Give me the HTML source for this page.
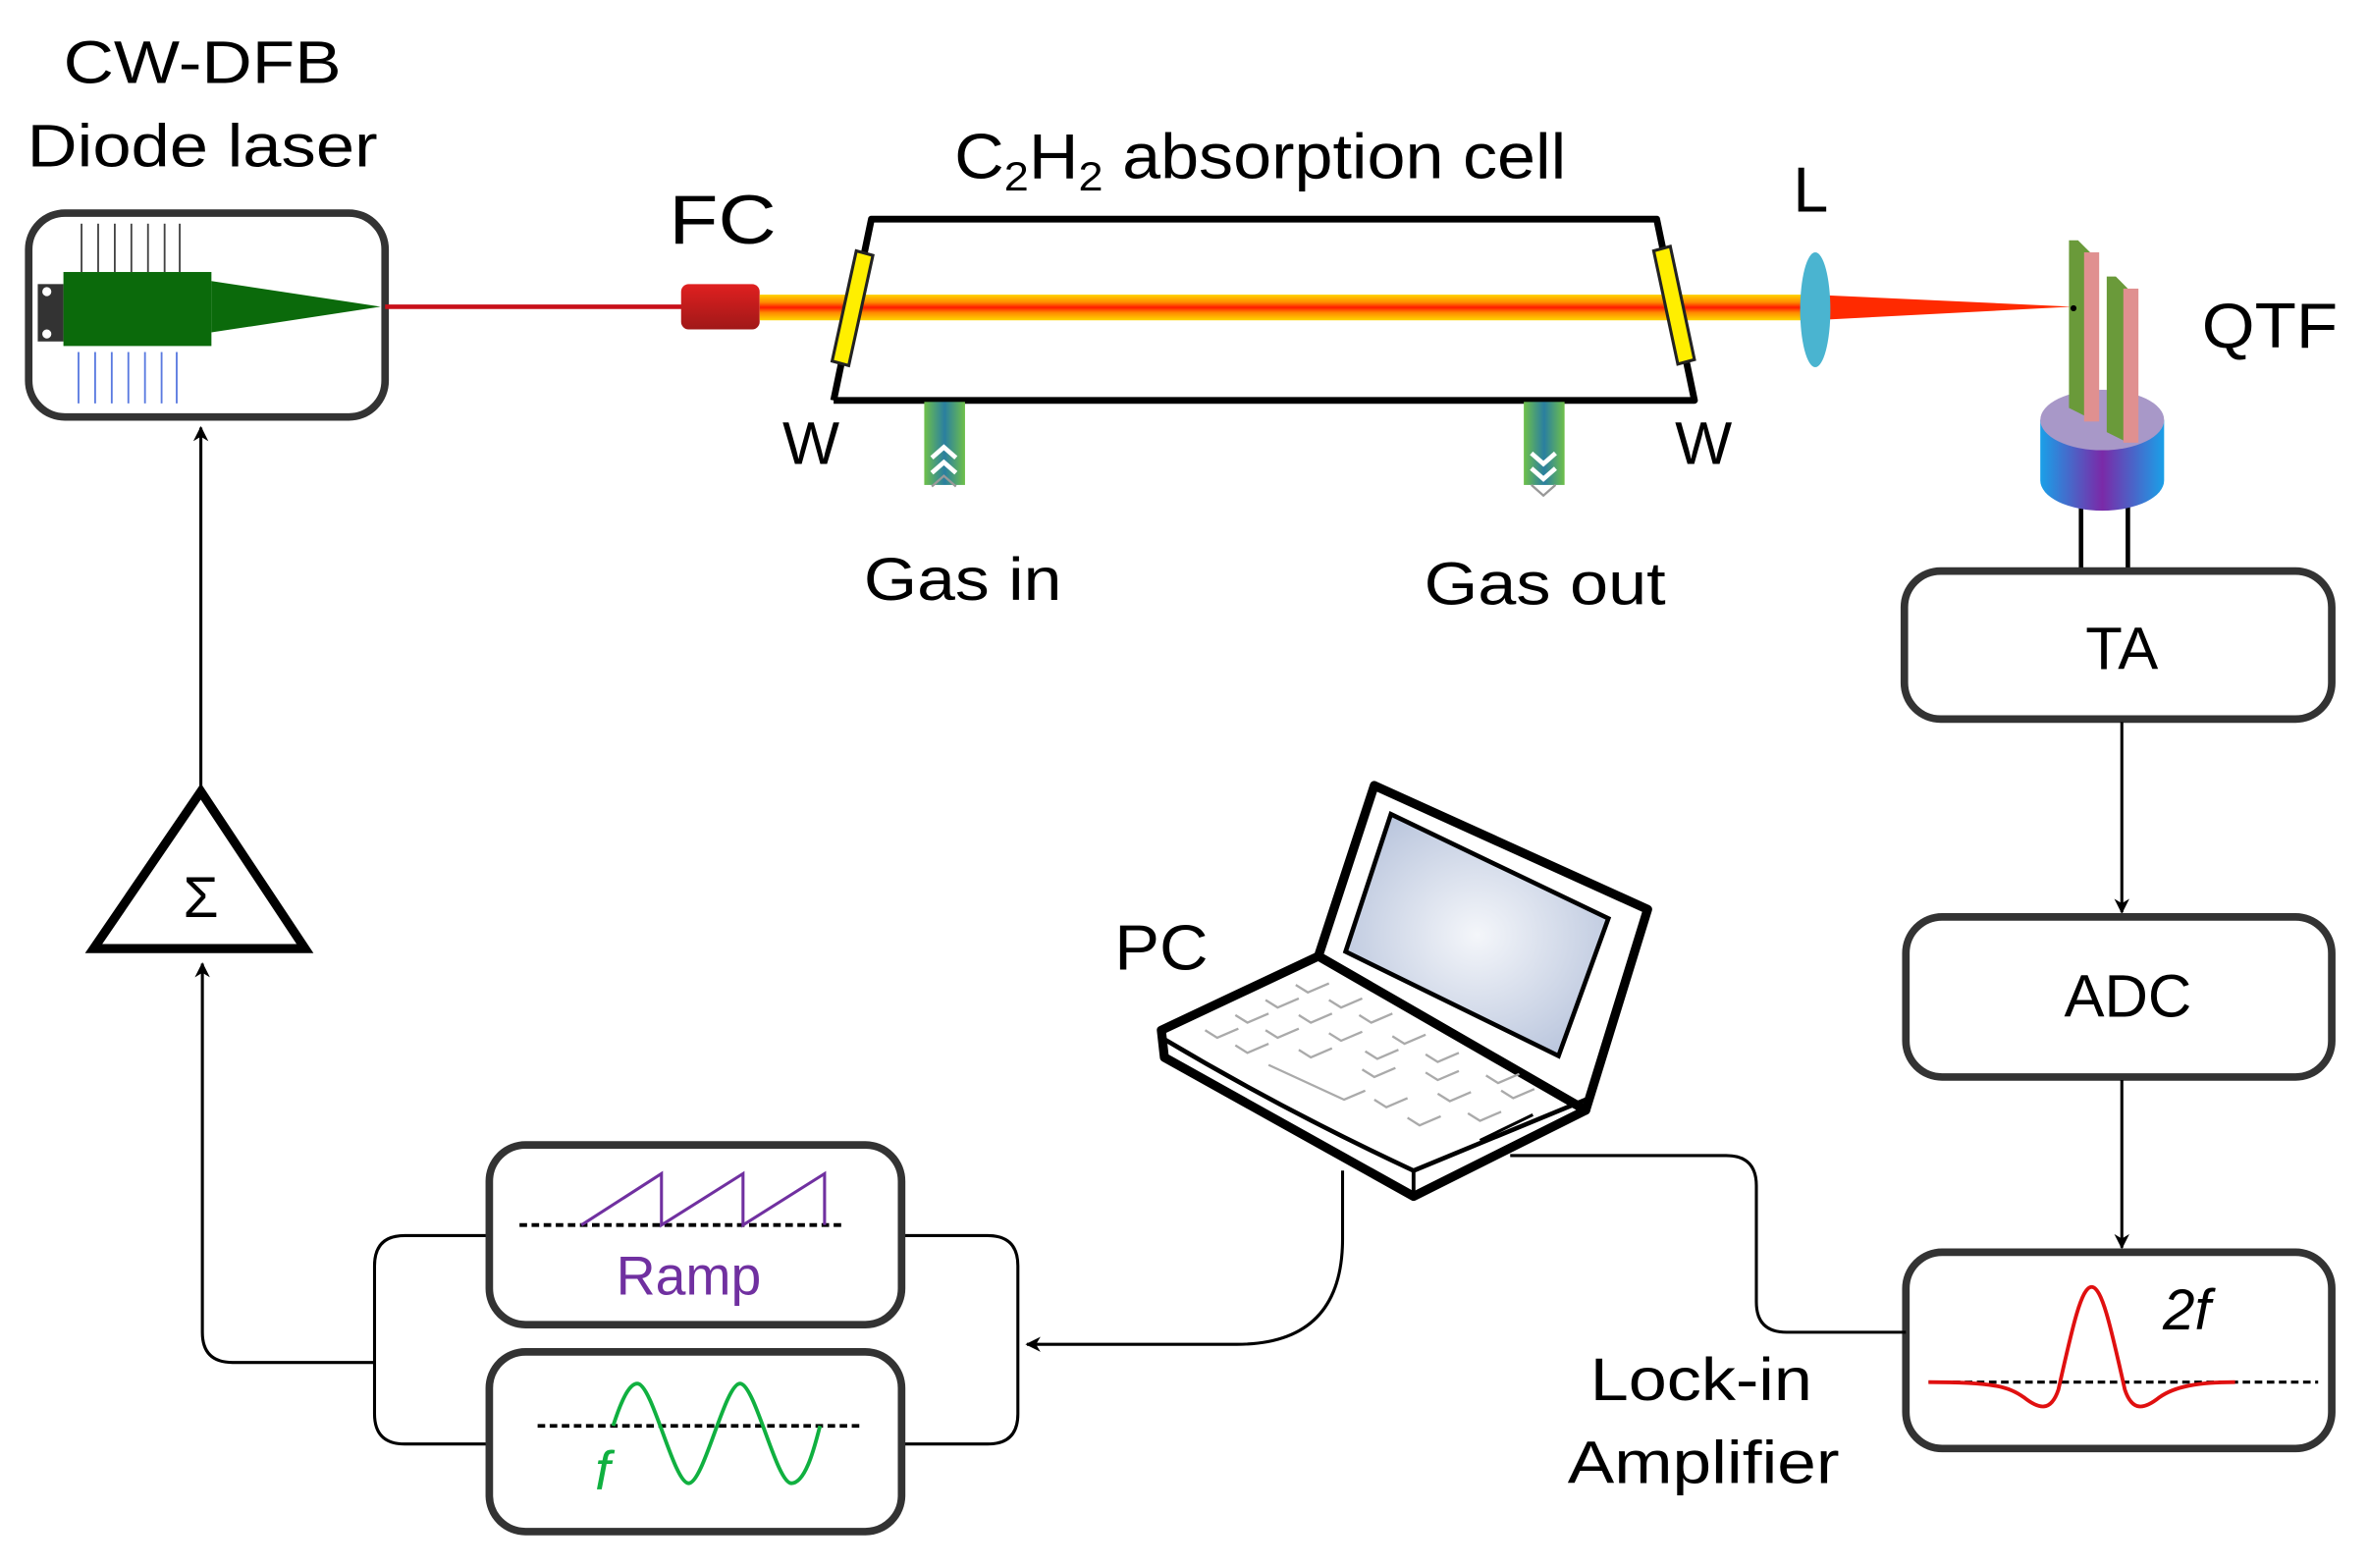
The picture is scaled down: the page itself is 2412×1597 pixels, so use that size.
<!DOCTYPE html>
<html><head><meta charset="utf-8"><style>
html,body{margin:0;padding:0;background:#fff;}
svg{display:block;}
text{font-family:"Liberation Sans",Arial,sans-serif;}
</style></head><body>
<svg width="2412" height="1597" viewBox="0 0 1568 1038" xmlns="http://www.w3.org/2000/svg">
<defs>
<marker id="ah" markerWidth="10" markerHeight="10" refX="9" refY="5" orient="auto" markerUnits="userSpaceOnUse">
<path d="M0,0 L10,5 L0,10 L3,5 Z" fill="#000"/></marker>
<linearGradient id="beam" x1="0" y1="0" x2="0" y2="1">
<stop offset="0" stop-color="#ffd400"/><stop offset="0.3" stop-color="#ff8a00"/><stop offset="0.5" stop-color="#ff1a00"/><stop offset="0.7" stop-color="#ff8a00"/><stop offset="1" stop-color="#ffd400"/></linearGradient>
<linearGradient id="tube" x1="0" y1="0" x2="1" y2="0">
<stop offset="0" stop-color="#6fc04a"/><stop offset="0.5" stop-color="#2a7fa0"/><stop offset="1" stop-color="#6fc04a"/></linearGradient>
<linearGradient id="cyl" x1="0" y1="0" x2="1" y2="0">
<stop offset="0" stop-color="#1aa0e8"/><stop offset="0.5" stop-color="#7a2aa8"/><stop offset="1" stop-color="#1aa0e8"/></linearGradient>
<radialGradient id="scr" cx="0.5" cy="0.5" r="0.6"><stop offset="0" stop-color="#f4f6fa"/><stop offset="1" stop-color="#b8c4dc"/></radialGradient>
<linearGradient id="fc" x1="0" y1="0" x2="0" y2="1"><stop offset="0" stop-color="#e02020"/><stop offset="1" stop-color="#a01818"/></linearGradient>
</defs>

<!-- Laser -->
<text x="42" y="55" font-size="40" textLength="184" lengthAdjust="spacingAndGlyphs">CW-DFB</text>
<text x="18" y="110" font-size="40" textLength="232" lengthAdjust="spacingAndGlyphs">Diode laser</text>
<rect x="19" y="141" width="236" height="135" rx="24" fill="#fff" stroke="#333" stroke-width="5"/>
<g stroke="#444" stroke-width="1.2">
<line x1="54" y1="148" x2="54" y2="180"/><line x1="65" y1="148" x2="65" y2="180"/><line x1="76" y1="148" x2="76" y2="180"/><line x1="87" y1="148" x2="87" y2="180"/><line x1="98" y1="148" x2="98" y2="180"/><line x1="109" y1="148" x2="109" y2="180"/><line x1="119" y1="148" x2="119" y2="180"/></g>
<g stroke="#5a7ae0" stroke-width="1.2">
<line x1="52" y1="233" x2="52" y2="267"/><line x1="63" y1="233" x2="63" y2="267"/><line x1="74" y1="233" x2="74" y2="267"/><line x1="85" y1="233" x2="85" y2="267"/><line x1="96" y1="233" x2="96" y2="267"/><line x1="107" y1="233" x2="107" y2="267"/><line x1="117" y1="233" x2="117" y2="267"/></g>
<rect x="25" y="188" width="17" height="38" fill="#333"/>
<circle cx="31" cy="193" r="3" fill="#fff"/><circle cx="31" cy="221" r="3" fill="#fff"/>
<rect x="42" y="180" width="98" height="49" fill="#0b6a0b"/>
<polygon points="140,186 252,203 140,220" fill="#0b6a0b"/>
<line x1="255" y1="203" x2="452" y2="203" stroke="#c8101a" stroke-width="3"/>
<!-- FC -->
<text x="443" y="161" font-size="46" textLength="71" lengthAdjust="spacingAndGlyphs">FC</text>
<rect x="451" y="188" width="52" height="30" rx="5" fill="url(#fc)"/>
<!-- beam -->
<rect x="503" y="195" width="697" height="17" fill="url(#beam)"/>
<polygon points="1200,195 1372,203 1200,212" fill="#ff2a00"/>
<!-- cell -->
<text x="632" y="118" font-size="42" textLength="405" lengthAdjust="spacingAndGlyphs">C<tspan font-size="27" dy="8">2</tspan><tspan dy="-8">H</tspan><tspan font-size="27" dy="8">2</tspan><tspan dy="-8"> absorption cell</tspan></text>
<polyline points="552,265 577,145 1097,145 1122,265 552,265" fill="none" stroke="#000" stroke-width="4.5" stroke-linejoin="round"/>
<polygon points="567,166 578,169 562,242 551,239" fill="#ffef00" stroke="#222" stroke-width="2"/>
<polygon points="1095,166 1106,163 1122,238 1111,241" fill="#ffef00" stroke="#222" stroke-width="2"/>
<text x="537" y="307" font-size="40" text-anchor="middle">W</text>
<text x="1128" y="307" font-size="40" text-anchor="middle">W</text>
<rect x="612" y="266" width="27" height="55" fill="url(#tube)"/>
<g fill="none" stroke="#fff" stroke-width="3"><polyline points="617,303 625,296 633,303"/><polyline points="617,313 625,306 633,313"/></g>
<g fill="none" stroke="#999" stroke-width="1.5"><polyline points="617,322 625,315 633,322"/></g>
<rect x="1009" y="266" width="27" height="55" fill="url(#tube)"/>
<g fill="none" stroke="#fff" stroke-width="3"><polyline points="1014,300 1022,307 1030,300"/><polyline points="1014,310 1022,317 1030,310"/></g>
<g fill="none" stroke="#999" stroke-width="1.5"><polyline points="1014,321 1022,328 1030,321"/></g>
<text x="572" y="397" font-size="40" textLength="131" lengthAdjust="spacingAndGlyphs">Gas in</text>
<text x="943" y="400" font-size="40" textLength="160" lengthAdjust="spacingAndGlyphs">Gas out</text>
<!-- lens -->
<text x="1199" y="140" font-size="42" text-anchor="middle">L</text>
<ellipse cx="1202" cy="205" rx="10" ry="38" fill="#4ab4d0"/>
<!-- QTF -->
<text x="1458" y="230" font-size="42" textLength="90" lengthAdjust="spacingAndGlyphs">QTF</text>
<line x1="1378" y1="335" x2="1378" y2="377" stroke="#000" stroke-width="3"/>
<line x1="1409" y1="335" x2="1409" y2="377" stroke="#000" stroke-width="3"/>
<path d="M1351,278 L1351,318 A41,20 0 0 0 1433,318 L1433,278 Z" fill="url(#cyl)"/>
<ellipse cx="1392" cy="278" rx="41" ry="20" fill="#a898c8"/>
<polygon points="1370,159 1376,159 1384,167 1384,277 1370,270" fill="#6a9a3a"/>
<rect x="1380" y="167" width="10" height="112" fill="#e09090"/>
<polygon points="1395,183 1401,183 1409,191 1409,293 1395,286" fill="#6a9a3a"/>
<rect x="1406" y="191" width="10" height="102" fill="#e09090"/>
<circle cx="1373" cy="204" r="2" fill="#000"/>
<!-- right chain boxes -->
<rect x="1261" y="378" width="283" height="98" rx="24" fill="#fff" stroke="#333" stroke-width="5"/>
<text x="1405" y="443" font-size="40" text-anchor="middle">TA</text>
<line x1="1405" y1="478" x2="1405" y2="604" stroke="#000" stroke-width="2" marker-end="url(#ah)"/>
<rect x="1262" y="607" width="282" height="106" rx="24" fill="#fff" stroke="#333" stroke-width="5"/>
<text x="1409" y="673" font-size="40" text-anchor="middle">ADC</text>
<line x1="1405" y1="715" x2="1405" y2="826" stroke="#000" stroke-width="2" marker-end="url(#ah)"/>
<rect x="1262" y="829" width="282" height="130" rx="24" fill="#fff" stroke="#333" stroke-width="5"/>
<line x1="1277" y1="915" x2="1535" y2="915" stroke="#000" stroke-width="2" stroke-dasharray="5,3"/>
<path d="M1277,915 C1320,915 1330,918 1340,925 C1350,933 1358,935 1363,920 C1372,880 1378,852 1385,852 C1392,852 1398,880 1407,920 C1412,935 1420,933 1430,925 C1440,918 1455,915 1480,915" fill="none" stroke="#e01010" stroke-width="2.5"/>
<text x="1448" y="880" font-size="38" font-style="italic" text-anchor="middle">2f</text>
<text x="1053" y="927" font-size="40" textLength="147" lengthAdjust="spacingAndGlyphs">Lock-in</text>
<text x="1038" y="982" font-size="40" textLength="180" lengthAdjust="spacingAndGlyphs">Amplifier</text>
<!-- wire lockin to PC -->
<path d="M1262,882 L1183,882 Q1163,882 1163,862 L1163,785 Q1163,765 1143,765 L1000,765" fill="none" stroke="#000" stroke-width="2"/>
<!-- PC wire to signal gens -->
<path d="M889,775 L889,820 Q889,890 819,890 L680,890" fill="none" stroke="#000" stroke-width="2" marker-end="url(#ah)"/>
<!-- laptop -->
<text x="738" y="642" font-size="42" textLength="62" lengthAdjust="spacingAndGlyphs">PC</text>
<polygon points="910,520 1091,602 1050,735 873,633" fill="#fff" stroke="#000" stroke-width="6" stroke-linejoin="round"/>
<polygon points="921,539 1065,608 1032,699 891,630" fill="url(#scr)" stroke="#000" stroke-width="3"/>
<polygon points="873,633 769,682 771,700 936,792 1050,735" fill="#fff" stroke="#000" stroke-width="6" stroke-linejoin="round"/>
<path d="M771,688 Q850,735 936,775 L1050,728" fill="none" stroke="#000" stroke-width="3"/>
<line x1="936" y1="775" x2="936" y2="790" stroke="#000" stroke-width="2.5"/>
<g fill="none" stroke="#aaa" stroke-width="1.5">
<polyline points="858,652 866,657 880,651"/><polyline points="838,662 846,667 860,661"/><polyline points="880,662 888,667 902,661"/>
<polyline points="818,672 826,677 840,671"/><polyline points="860,672 868,677 882,671"/><polyline points="900,672 908,677 922,671"/>
<polyline points="798,682 806,687 820,681"/><polyline points="838,682 846,687 860,681"/><polyline points="880,684 888,689 902,683"/><polyline points="922,686 930,691 944,685"/>
<polyline points="818,692 826,697 840,691"/><polyline points="860,695 868,700 882,694"/><polyline points="904,696 912,701 926,695"/><polyline points="944,698 952,703 966,697"/>
<polyline points="840,705 890,728 904,722"/><polyline points="902,708 910,713 924,707"/><polyline points="944,710 952,715 966,709"/><polyline points="984,712 992,717 1006,711"/>
<polyline points="910,728 918,733 932,727"/><polyline points="952,724 960,729 974,723"/><polyline points="994,722 1002,727 1016,721"/>
<polyline points="932,740 940,745 954,739"/><polyline points="972,737 980,742 994,736"/>
</g>
<line x1="980" y1="755" x2="1015" y2="738" stroke="#000" stroke-width="2"/>
<!-- signal generators -->
<path d="M324,818 L268,818 Q248,818 248,838 L248,936 Q248,956 268,956 L324,956" fill="none" stroke="#000" stroke-width="2"/>
<path d="M597,818 L654,818 Q674,818 674,838 L674,936 Q674,956 654,956 L597,956" fill="none" stroke="#000" stroke-width="2"/>
<path d="M248,902 L154,902 Q134,902 134,882 L134,638" fill="none" stroke="#000" stroke-width="2" marker-end="url(#ah)"/>
<rect x="324" y="758" width="273" height="119" rx="24" fill="#fff" stroke="#333" stroke-width="5"/>
<line x1="344" y1="811" x2="559" y2="811" stroke="#000" stroke-width="2.5" stroke-dasharray="5,3"/>
<polyline points="385,811 438,777 438,811 492,777 492,811 546,777 546,811" fill="none" stroke="#7030a0" stroke-width="2"/>
<text x="456" y="857" font-size="36" fill="#7030a0" text-anchor="middle">Ramp</text>
<rect x="324" y="895" width="273" height="119" rx="24" fill="#fff" stroke="#333" stroke-width="5"/>
<line x1="356" y1="944" x2="570" y2="944" stroke="#000" stroke-width="2.5" stroke-dasharray="5,3"/>
<path d="M406,944 C413,922 418,916 422,916 C432,916 446,982 456,982 C466,982 480,916 490,916 C500,916 514,982 524,982 C534,982 540,955 543,944" fill="none" stroke="#10b040" stroke-width="2.5"/>
<text x="399" y="986" font-size="36" font-style="italic" fill="#10b040" text-anchor="middle">f</text>
<!-- sum -->
<polygon points="133,524 62,628 202,628" fill="#fff" stroke="#000" stroke-width="6" stroke-linejoin="miter"/>
<text x="133" y="607" font-size="38" text-anchor="middle" font-family="Liberation Serif,serif">Σ</text>
<line x1="133" y1="522" x2="133" y2="283" stroke="#000" stroke-width="2" marker-end="url(#ah)"/>
</svg>
</body></html>
